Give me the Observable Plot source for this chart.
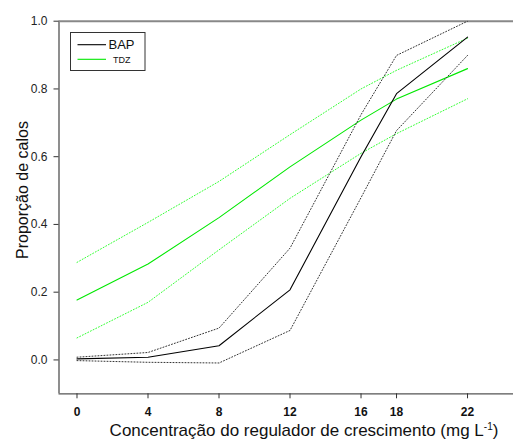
<!DOCTYPE html>
<html>
<head>
<meta charset="utf-8">
<script src="https://cdn.jsdelivr.net/npm/d3@7"></script>
<script src="https://cdn.jsdelivr.net/npm/@observablehq/plot@0.6"></script>
<style>
  html, body { margin: 0; padding: 0; background: #fff; }
  #chart { position: relative; width: 513px; height: 444px; }
  svg { font-family: "Liberation Sans", Arial, sans-serif; }
</style>
</head>
<body>
<div id="chart"></div>
<script>
// Data
const doses = [0, 4, 8, 12, 16, 18, 22];
const xTicks = [0, 4, 8, 12, 16, 18, 22];
const yTicks = [0, 0.2, 0.4, 0.6, 0.8, 1.0];

const bapMean  = [0.003, 0.008, 0.042, 0.207, 0.600, 0.786, 0.953];
const bapUpper = [0.008, 0.022, 0.094, 0.330, 0.724, 0.899, 1.000];
const bapLower = [-0.002, -0.007, -0.009, 0.087, 0.479, 0.677, 0.899];

const tdzMean  = [0.177, 0.283, 0.420, 0.570, 0.708, 0.770, 0.860];
const tdzUpper = [0.288, 0.406, 0.527, 0.665, 0.800, 0.855, 0.950];
const tdzLower = [0.065, 0.170, 0.325, 0.477, 0.610, 0.668, 0.771];

const seriesNames = ["BAP", "TDZ"];
const xLabel = "Concentração do regulador de crescimento (mg L";
const yLabel = "Proporção de calos";

const toRows = (vals) => doses.map((d, i) => ({dose: d, value: vals[i]}));

const BLACK = "#000000";
const GREEN = "#00e800";
const GREEN_DOT = "#33ff33";

const xDomain = [-1.014, 24.59];
const yDomain = [-0.1, 1.0];

const plot = Plot.plot({
  width: 513,
  height: 444,
  marginLeft: 58.5,
  marginRight: 0,
  marginTop: 20.7,
  marginBottom: 50.7,
  style: {fontFamily: "'Liberation Sans', Arial, sans-serif", background: "white"},
  x: {domain: xDomain, ticks: xTicks, label: null},
  y: {domain: yDomain, ticks: yTicks, label: null},
  marks: [
    // frame lines
    Plot.ruleX([xDomain[0]], {stroke: "#444", strokeWidth: 1.2}),
    Plot.ruleY([yDomain[1]], {stroke: "#888", strokeWidth: 2}),
    Plot.ruleY([yDomain[0]], {stroke: "#555", strokeWidth: 1.2}),
    Plot.axisX({ticks: xTicks, tickSize: 5, tickPadding: 9, fontSize: 12, fontWeight: "bold", stroke: "#333", fill: "#111", tickFormat: d => String(d), label: null}),
    Plot.axisY({ticks: yTicks, tickSize: 5, tickPadding: 6.5, fontSize: 12, stroke: "#333", fill: "#222", tickFormat: d3.format(".1f"), label: null}),
    // TDZ
    Plot.line(toRows(tdzUpper), {x: "dose", y: "value", stroke: GREEN_DOT, strokeWidth: 1, strokeDasharray: "1,2", clip: true}),
    Plot.line(toRows(tdzLower), {x: "dose", y: "value", stroke: GREEN_DOT, strokeWidth: 1, strokeDasharray: "1,2", clip: true}),
    Plot.line(toRows(tdzMean), {x: "dose", y: "value", stroke: GREEN, strokeWidth: 1.1}),
    // BAP
    Plot.line(toRows(bapUpper), {x: "dose", y: "value", stroke: "#333", strokeWidth: 1, strokeDasharray: "1,2", clip: true}),
    Plot.line(toRows(bapLower), {x: "dose", y: "value", stroke: "#333", strokeWidth: 1, strokeDasharray: "1,2", clip: true}),
    Plot.line(toRows(bapMean), {x: "dose", y: "value", stroke: BLACK, strokeWidth: 1.1})
  ]
});

document.getElementById("chart").appendChild(plot);

const svg = d3.select(plot);

// Axis titles
svg.append("text")
  .attr("transform", "translate(28,190) rotate(-90)")
  .attr("text-anchor", "middle")
  .attr("font-size", 16)
  .attr("fill", "#111")
  .text(yLabel);

const xt = svg.append("text")
  .attr("x", 304)
  .attr("y", 436)
  .attr("text-anchor", "middle")
  .attr("font-size", 17)
  .attr("fill", "#111");
xt.append("tspan").text(xLabel);
xt.append("tspan").attr("font-size", 10).attr("dy", -6).text("-1");
xt.append("tspan").attr("dy", 6).text(")");

// Legend
const lg = svg.append("g").attr("text-anchor", "start");
lg.append("rect")
  .attr("x", 70.5).attr("y", 32.5).attr("width", 74.5).attr("height", 38)
  .attr("fill", "white").attr("stroke", "#333").attr("stroke-width", 1);
const legendItems = [
  {name: seriesNames[0], color: BLACK, y: 44.7, size: 13, ty: 49, tx: 108.5},
  {name: seriesNames[1], color: GREEN, y: 59.3, size: 9, ty: 62.5, tx: 113}
];
legendItems.forEach((it) => {
  lg.append("line")
    .attr("x1", 77.5).attr("x2", 106).attr("y1", it.y).attr("y2", it.y)
    .attr("stroke", it.color).attr("stroke-width", 1.1);
  lg.append("text")
    .attr("x", it.tx)
    .attr("y", it.ty)
    .attr("text-anchor", "start")
    .attr("font-size", it.size)
    .attr("fill", "#111")
    .text(it.name);
});
</script>
</body>
</html>
